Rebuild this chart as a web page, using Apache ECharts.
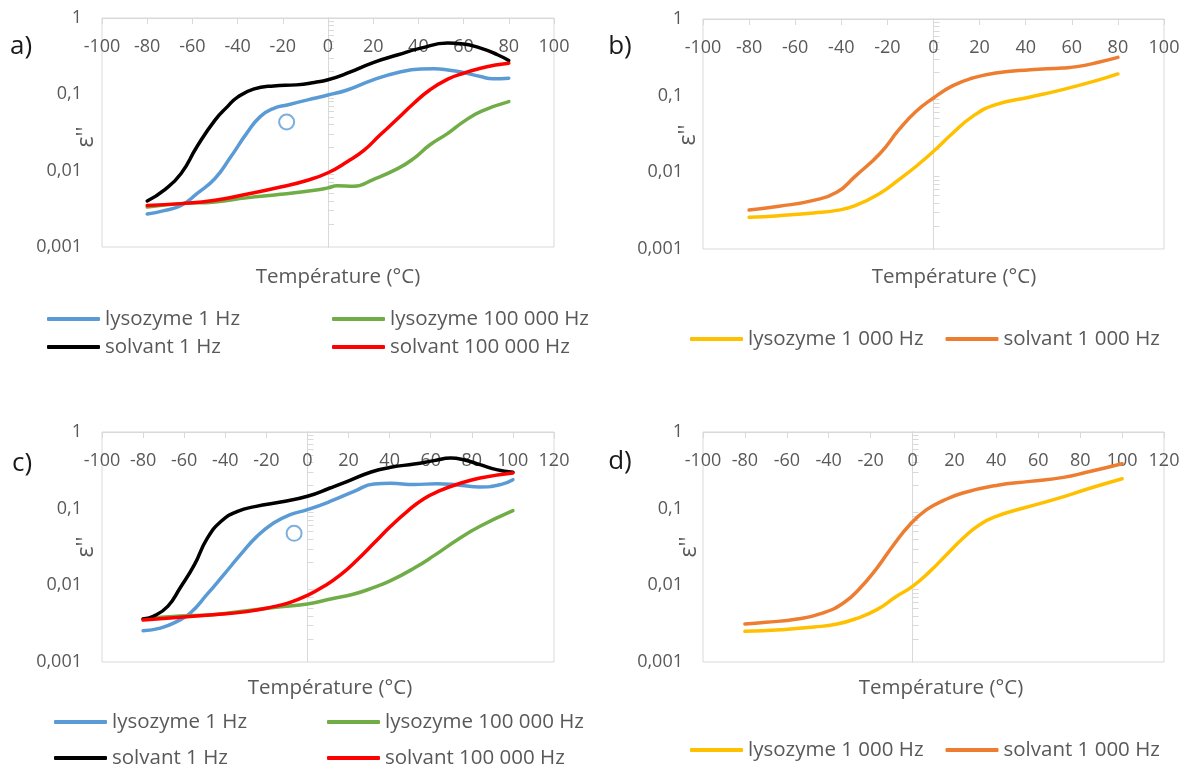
<!DOCTYPE html>
<html><head><meta charset="utf-8">
<script src="https://cdn.jsdelivr.net/npm/echarts@6/dist/echarts.min.js"></script>
<style>html,body{margin:0;padding:0;background:#fff}#c{width:1186px;height:769px}</style>
</head><body><div id="c"></div><script>
// ---------- tick labels / ranges ----------
const xRangeTop = [-100, 100];
const xRangeBottom = [-100, 120];
const yRange = [0.001, 1];
const minorTickValues = [0.002,0.003,0.004,0.005,0.006,0.007,0.008,0.009,
  0.02,0.03,0.04,0.05,0.06,0.07,0.08,0.09,0.2,0.3,0.4,0.5,0.6,0.7,0.8,0.9];

// ---------- panel a ----------
const aLyso1T = [-80,-72.5,-65,-58,-50,-43,-36,-30,-24,-18,-9,0,8.5,20,31,41,47,53,60,67.5,73,80];
const aLyso1V = [0.0027,0.0030,0.0035,0.0050,0.0079,0.0152,0.0308,0.051,0.0656,0.0726,0.0845,0.098,0.114,0.155,0.193,0.214,0.216,0.209,0.193,0.171,0.160,0.163];
const aLyso1eT = [-80,-65,-50,-36,-21,-6,0,4,11.5,20,31,38,45,53,60,67.5,80];
const aLyso1eV = [0.00335,0.0037,0.0039,0.0044,0.0049,0.00555,0.00595,0.00633,0.00626,0.00766,0.0107,0.0145,0.0217,0.0308,0.0439,0.0594,0.0804];
const aSolv1T = [-80,-72.5,-65,-58,-50,-44.5,-40,-33,-24,-14,-6,0,8.5,20,31,41,53,59,67.5,75,80];
const aSolv1V = [0.0040,0.00555,0.0092,0.0206,0.046,0.069,0.092,0.117,0.129,0.133,0.143,0.155,0.189,0.261,0.330,0.403,0.469,0.460,0.403,0.330,0.278];
const aSolv1eT = [-80,-65,-50,-36,-21,-9,0,8.5,16,23,31,38,45,53,60,67.5,75,80];
const aSolv1eV = [0.0035,0.0037,0.0041,0.0049,0.0061,0.0075,0.0094,0.0131,0.0186,0.0293,0.0485,0.0764,0.114,0.158,0.189,0.220,0.244,0.256];
const aCircle = [[-18.3, 0.0434]];

// ---------- panel b ----------
const bLysoT = [-80,-67,-52,-42,-34,-23,-15,-7.5,0,8.4,17,27,42,56,70.6,80];
const bLysoV = [0.00259,0.00272,0.00295,0.00319,0.00367,0.00537,0.00802,0.012,0.0188,0.0326,0.0537,0.0764,0.096,0.120,0.157,0.192];
const bSolvT = [-80,-67,-52,-42,-34,-23,-15,-7.5,0,8.4,17,27,42,56,63,72,80];
const bSolvV = [0.00323,0.00361,0.00431,0.00548,0.00887,0.0179,0.036,0.0625,0.0933,0.135,0.170,0.198,0.218,0.230,0.241,0.275,0.316];

// ---------- panel c ----------
const cLyso1T = [-80,-71.6,-63.5,-57,-49,-40.7,-32.6,-24.6,-16.5,-8.4,0,11.3,22.7,32.4,40.5,52,63,73,84,94,100];
const cLyso1V = [0.00256,0.00277,0.00339,0.00435,0.00755,0.0138,0.0251,0.0435,0.065,0.0835,0.097,0.125,0.168,0.210,0.214,0.206,0.212,0.204,0.192,0.206,0.239];
const cLyso1eT = [-80,-62,-46,-29.5,-13,0,11.3,22.7,32.4,40.5,52,61.6,73,84,100];
const cLyso1eV = [0.00367,0.00398,0.00414,0.00468,0.00527,0.00571,0.00664,0.00771,0.00941,0.0115,0.0168,0.0244,0.0394,0.0589,0.0942];
const cSolv1T = [-80,-75,-68,-62,-55,-49,-42,-34,-25,-13,0,11,19.5,31,40.5,52,61.6,69.7,76,84,92,100];
const cSolv1V = [0.00364,0.00394,0.00532,0.00923,0.0186,0.0400,0.0684,0.0923,0.107,0.122,0.145,0.186,0.227,0.301,0.346,0.383,0.423,0.458,0.435,0.375,0.323,0.298];
const cSolv1eT = [-80,-62,-46,-29.5,-16.5,-8.4,0,8,16.2,24.3,32.4,40.5,48.6,56.7,64.8,73,84,100];
const cSolv1eV = [0.00353,0.00383,0.00414,0.00454,0.00527,0.006,0.0074,0.0097,0.0138,0.0216,0.0356,0.0589,0.0923,0.135,0.173,0.208,0.251,0.292];
const cCircle = [[-6.5, 0.0477]];

// ---------- panel d ----------
const dLysoT = [-80,-63,-47,-36,-27,-17,-7.6,0,8.3,16.2,24.2,32,40,53,69,85,100];
const dLysoV = [0.00251,0.00264,0.00286,0.00313,0.00367,0.00482,0.0072,0.0097,0.0152,0.0251,0.0414,0.0618,0.0794,0.102,0.135,0.186,0.246];
const dSolvT = [-80,-70,-55,-43,-33,-25,-17,-9,-1.3,6.7,14.6,24,40,56,72,83,100];
const dSolvV = [0.00313,0.00329,0.00364,0.00435,0.00589,0.00923,0.0168,0.0339,0.0618,0.097,0.127,0.160,0.201,0.227,0.256,0.298,0.386];

// ---------- texts ----------
const panelLetters = ['a)', 'b)', 'c)', 'd)'];
const xTitle = 'Température (°C)';
const yTitle = "ε''";
const names = {
  l1: 'lysozyme 1 Hz', l5: 'lysozyme 100 000 Hz',
  s1: 'solvant 1 Hz', s5: 'solvant 100 000 Hz',
  l3: 'lysozyme 1 000 Hz', s3: 'solvant 1 000 Hz'
};
const colors = {
  l1: '#5B9BD5', l5: '#70AD47', s1: '#000000', s5: '#FF0000', l3: '#FFC000', s3: '#ED7D31'
};

// ---------- styling / layout ----------
const FONT = '"Open Sans", sans-serif';
const GREY = '#595959';
const BORDER = '#d9d9d9';
const grids = [
  { left: 102, top: 18, width: 452, height: 229 },
  { left: 703, top: 19, width: 461, height: 230 },
  { left: 102, top: 432, width: 452, height: 230 },
  { left: 703, top: 432, width: 461, height: 230 }
];
const xRanges = [xRangeTop, xRangeTop, xRangeBottom, xRangeBottom];

function zip(t, v) { return t.map((x, i) => [x, v[i]]); }
function yFmt(v) {
  if (v >= 1) return '1';
  const d = Math.round(-Math.log10(v));
  return v.toFixed(d).replace('.', ',');
}

const xAxes = [], yAxes = [];
grids.forEach((g, i) => {
  xAxes.push({
    gridIndex: i, type: 'value', min: xRanges[i][0], max: xRanges[i][1], interval: 20,
    position: 'top',
    axisLine: { show: true, onZero: false, lineStyle: { color: BORDER, width: 1 } },
    axisTick: { show: true, inside: true, length: 6, lineStyle: { color: BORDER } },
    axisLabel: { inside: true, margin: 20, color: GREY, fontSize: 18, fontFamily: FONT },
    splitLine: { show: false }
  });
  xAxes.push({
    gridIndex: i, type: 'value', min: xRanges[i][0], max: xRanges[i][1], show: false,
    axisLine: { onZero: false }
  });
  yAxes.push({
    gridIndex: i, type: 'log', logBase: 10, min: yRange[0], max: yRange[1],
    axisLine: { show: true, onZero: true, onZeroAxisIndex: 2 * i, lineStyle: { color: BORDER, width: 1 } },
    axisTick: { show: false },
    axisLabel: { color: GREY, fontSize: 18, fontFamily: FONT, margin: 20, formatter: yFmt },
    splitLine: { show: false }
  });
  yAxes.push({
    gridIndex: i, type: 'value', min: -3, max: 0, position: 'left',
    axisLine: { show: true, onZero: true, onZeroAxisIndex: 2 * i + 1, lineStyle: { color: BORDER } },
    axisTick: { show: true, inside: true, length: 6, lineStyle: { color: BORDER },
      customValues: minorTickValues.map(v => Math.log10(v)) },
    axisLabel: { show: false },
    splitLine: { show: false }
  });
});

function line(key, grid, t, v) {
  return {
    type: 'line', name: names[key], xAxisIndex: 2 * grid, yAxisIndex: 2 * grid,
    data: zip(t, v), smooth: 0.5, showSymbol: false, symbol: 'none',
    color: colors[key], lineStyle: { width: 3.5, color: colors[key], cap: 'round', join: 'round' },
    z: 3
  };
}
function circle(grid, pts) {
  return {
    type: 'scatter', name: 'marker', xAxisIndex: 2 * grid, yAxisIndex: 2 * grid,
    data: pts, symbol: 'circle', symbolSize: 15,
    itemStyle: { color: 'rgba(0,0,0,0)', borderColor: colors.l1, borderWidth: 2 }, z: 4
  };
}

const series = [
  line('l1', 0, aLyso1T, aLyso1V),
  line('l5', 0, aLyso1eT, aLyso1eV),
  line('s1', 0, aSolv1T, aSolv1V),
  line('s5', 0, aSolv1eT, aSolv1eV),
  line('l3', 1, bLysoT, bLysoV),
  line('s3', 1, bSolvT, bSolvV),
  line('l1', 2, cLyso1T, cLyso1V),
  line('l5', 2, cLyso1eT, cLyso1eV),
  line('s1', 2, cSolv1T, cSolv1V),
  line('s5', 2, cSolv1eT, cSolv1eV),
  line('l3', 3, dLysoT, dLysoV),
  line('s3', 3, dSolvT, dSolvV),
  circle(0, aCircle),
  circle(2, cCircle)
];

const legendBase = {
  icon: 'roundRect', itemWidth: 53, itemHeight: 4, selectedMode: false,
  textStyle: { color: GREY, fontSize: 20.5, fontFamily: FONT, lineHeight: 24 },
  padding: 0, orient: 'horizontal'
};
function lg(left, top, data, gap) {
  return Object.assign({}, legendBase, { left: left, top: top, data: data, itemGap: gap || 10 });
}
const legends = [
  lg(47, 307, [names.l1]), lg(332, 307, [names.l5]),
  lg(47, 335, [names.s1]), lg(332, 335, [names.s5]),
  lg(690, 327, [names.l3, names.s3], 22),
  lg(54, 710, [names.l1]), lg(327, 710, [names.l5]),
  lg(54, 746, [names.s1]), lg(327, 746, [names.s5]),
  lg(690, 738, [names.l3, names.s3], 22)
];

function txt(x, y, text, size, color, rot) {
  return { type: 'text', x: x, y: y, rotation: rot || 0,
    style: { text: text, fill: color, fontSize: size, fontFamily: FONT, align: 'center', verticalAlign: 'middle' } };
}
const letterPos = [[21, 47], [620, 47], [22, 464], [620, 462]];
const yTitlePos = [[86, 137], [688, 135], [86, 547], [689, 547]];
const xTitlePos = [[338, 277], [954, 277], [330, 688], [941, 688]];
const graphics = [];
for (let i = 0; i < 4; i++) {
  graphics.push(txt(letterPos[i][0], letterPos[i][1], panelLetters[i], 26, '#1a1a1a'));
  graphics.push(txt(yTitlePos[i][0], yTitlePos[i][1], yTitle, 23, GREY, Math.PI / 2));
  graphics.push(txt(xTitlePos[i][0], xTitlePos[i][1], xTitle, 20.5, GREY));
}

const chart = echarts.init(document.getElementById('c'), null, { renderer: 'canvas' });
chart.setOption({
  animation: false,
  backgroundColor: '#ffffff',
  grid: grids.map(g => Object.assign({ show: true, borderColor: BORDER, borderWidth: 1, backgroundColor: 'transparent', containLabel: false }, g)),
  xAxis: xAxes,
  yAxis: yAxes,
  legend: legends,
  series: series,
  graphic: graphics
});
</script></body></html>
